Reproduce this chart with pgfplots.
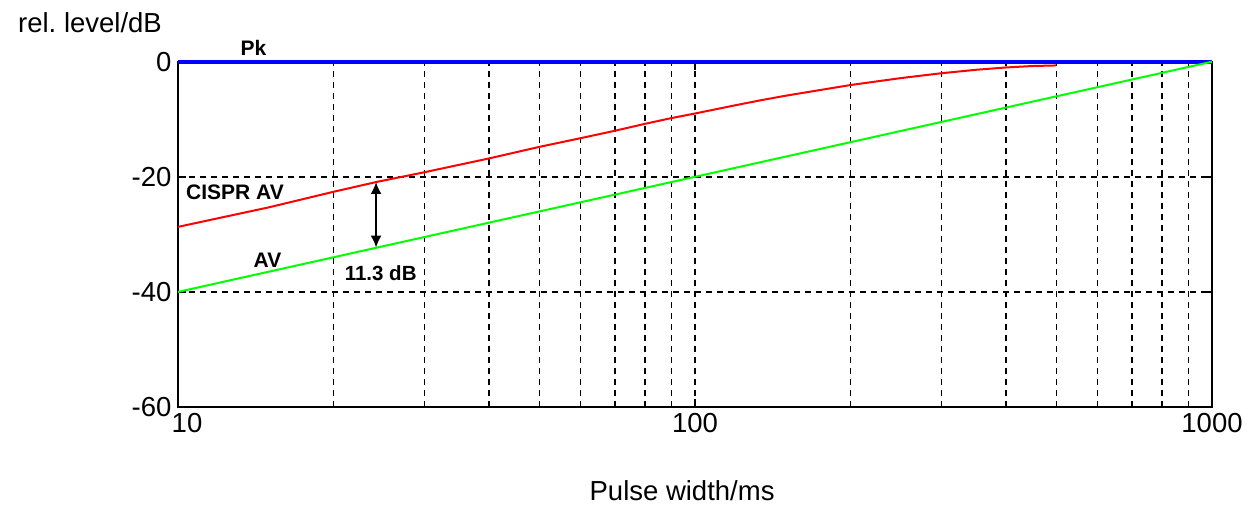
\documentclass[border=0pt]{standalone}
\usepackage{fontspec}
\setmainfont{Liberation Sans}
\usepackage{pgfplots}
\pgfplotsset{compat=1.18}
\usetikzlibrary{arrows.meta}
\frenchspacing
\begin{document}
\begin{tikzpicture}
\begin{axis}[
  scale only axis,
  width=1034bp, height=345.3bp,
  xmode=log, log basis x=10,
  xmin=10, xmax=1000, ymin=-60, ymax=0,
  xtick={10,100,1000},
  xticklabels={{\hspace{18bp}10},100,1000},
  minor xtick={20,30,40,50,60,70,80,90,200,300,400,500,600,700,800,900},
  ytick={-60,-40,-20,0},
  grid=both,
  major grid style={black, line width=1.6bp, dash pattern=on 6bp off 5bp},
  minor grid style={black, line width=1.6bp, dash pattern=on 6bp off 5bp},
  axis line style={black, line width=2bp},
  tick align=inside,
  major tick length=8bp, minor tick length=0bp,
  tick style={black, line width=1.5bp},
  /pgf/number format/assume math mode=true,
  tick label style={font=\fontsize{27.5bp}{32bp}\selectfont},
  xticklabel style={yshift=-3bp},
  yticklabel style={xshift=-3bp},
  xlabel={Pulse width/ms},
  xlabel style={at={(axis description cs:0.4875,0)}, anchor=north, yshift=-70bp, font=\fontsize{27.5bp}{32bp}\selectfont},
  clip=false,
]
% Peak
\addplot[blue, line width=4bp] coordinates {(10,0) (1000,0)};
% CISPR AV
\addplot[red, line width=2bp] coordinates {
  (10,-28.7) (15,-25.3) (20,-22.6) (24.2,-20.9) (30,-19.2) (40,-16.8)
  (50,-14.8) (60,-13.3) (70,-12.0) (80,-10.8) (90,-9.8) (100,-9.0)
  (120,-7.55) (134,-6.7) (150,-5.9) (200,-4.05) (250,-2.85) (300,-2.0) (350,-1.4)
  (400,-1.0) (450,-0.75) (500,-0.65)};
% AV
\addplot[green, line width=2bp] coordinates {
  (10,-40) (20,-33.98) (50,-26.02) (100,-20) (200,-13.98) (500,-6.02) (1000,0)};
% annotation
\draw[black, line width=2bp, {Latex[length=12bp,width=11bp]}-{Latex[length=12bp,width=11bp]}]
  (axis cs:24.16,-20.9) -- (axis cs:24.16,-32.3);
\node[font=\fontsize{21bp}{24bp}\selectfont\bfseries, anchor=center] at (axis cs:14.0,2.45) {Pk};
\node[font=\fontsize{21bp}{24bp}\selectfont\bfseries, anchor=west, inner sep=0] at (axis cs:10.36,-22.66) {CISPR AV};
\node[font=\fontsize{21bp}{24bp}\selectfont\bfseries, anchor=center] at (axis cs:14.9,-34.57) {AV};
\node[font=\fontsize{20.5bp}{24bp}\selectfont\bfseries, anchor=west, inner sep=0] at (axis cs:21.0,-36.75) {11.3 dB};
\end{axis}
\node[anchor=base west, inner sep=0, font=\fontsize{27.5bp}{32bp}\selectfont] at ([xshift=-160bp,yshift=28.7bp]current axis.north west) {rel. level/dB};
\path ([xshift=-178bp,yshift=-103bp]current axis.south west) rectangle ++(1259bp,510bp);
\end{tikzpicture}
\end{document}
